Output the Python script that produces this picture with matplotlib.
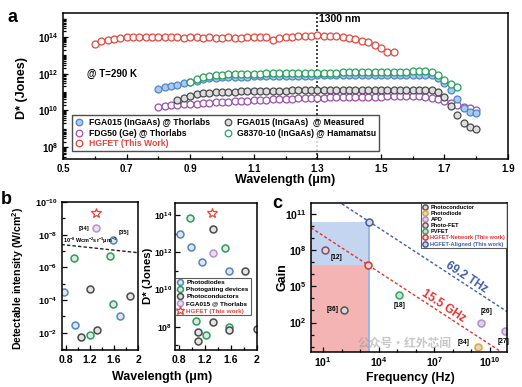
import numpy as np
import matplotlib
matplotlib.use('Agg')
import matplotlib.pyplot as plt
from matplotlib.ticker import LogLocator, NullFormatter, FixedLocator, FuncFormatter

plt.rcParams['font.family'] = ['Liberation Sans', 'DejaVu Sans']
plt.rcParams['font.weight'] = 'bold'
plt.rcParams['axes.labelweight'] = 'bold'
plt.rcParams['mathtext.fontset'] = 'custom'
plt.rcParams['mathtext.rm'] = 'Liberation Sans:bold'
plt.rcParams['mathtext.bf'] = 'Liberation Sans:bold'
plt.rcParams['mathtext.it'] = 'Liberation Sans:bold:italic'
plt.rcParams['mathtext.default'] = 'bf'

# ---------------- data: panel a (log10 D*) ----------------
wl_hgfet = np.round(np.arange(0.60, 1.5401, 0.02), 2)
logD_hgfet = [13.6, 13.75, 13.85, 13.9, 13.95, 14.0, 14.0, 14.0, 14.02, 14.02,
              14.0, 13.97, 14.0, 13.98, 13.95, 14.0, 13.98, 13.95, 13.97, 13.95,
              13.95, 13.97, 13.95, 13.95, 13.97, 13.98, 13.97, 14.0, 13.85, 13.95,
              14.0, 14.02, 14.03, 14.05, 14.07, 14.08, 14.07, 14.05, 14.03, 14.0,
              13.95, 13.88, 13.8, 13.7, 13.55, 13.4, 13.2, 13.15]
wl_g8370 = np.round(np.arange(0.90, 1.7401, 0.02), 2)
logD_g8370 = [11.54, 11.7, 11.82, 11.88, 11.92, 11.95, 11.96, 11.97, 11.98, 11.99,
              12.0, 12.0, 12.01, 12.01, 12.02, 12.02, 12.03, 12.03, 12.04, 12.04,
              12.05, 12.05, 12.06, 12.06, 12.07, 12.07, 12.08, 12.08, 12.09, 12.09,
              12.1, 12.1, 12.1, 12.11, 12.11, 12.12, 12.12, 12.12, 12.1, 11.95,
              11.65, 11.45, 11.25]
wl_fga_thor = np.round(np.arange(0.80, 1.8001, 0.02), 2)
logD_fga_thor = [11.18, 11.25, 11.32, 11.4, 11.48, 11.55, 11.62, 11.7, 11.75, 11.78,
                 11.8, 11.81, 11.82, 11.83, 11.84, 11.85, 11.85, 11.86, 11.86, 11.87,
                 11.87, 11.88, 11.88, 11.89, 11.89, 11.9, 11.9, 11.9, 11.91, 11.91,
                 11.91, 11.91, 11.92, 11.92, 11.92, 11.92, 11.92, 11.92, 11.92, 11.92,
                 11.92, 11.92, 11.92, 11.9, 11.78, 11.5, 11.1, 10.6, 10.15, 9.92, 9.86]
wl_fga_meas = np.round(np.arange(0.86, 1.8001, 0.02), 2)
logD_fga_meas = [10.55, 10.68, 10.8, 10.88, 10.94, 10.97, 10.99, 11.0, 11.01, 11.02,
                 11.03, 11.04, 11.05, 11.05, 11.06, 11.06, 11.07, 11.07, 11.08, 11.08,
                 11.09, 11.09, 11.1, 11.1, 11.1, 11.1, 11.11, 11.11, 11.11, 11.11,
                 11.12, 11.12, 11.12, 11.12, 11.12, 11.12, 11.12, 11.12, 11.12, 11.12,
                 11.1, 10.98, 10.72, 10.25, 9.72, 9.32, 9.1, 9.0]
wl_fdg50 = np.round(np.arange(0.80, 1.8001, 0.02), 2)
logD_fdg50 = [10.2, 10.24, 10.27, 10.3, 10.32, 10.35, 10.37, 10.39, 10.41, 10.43,
              10.45, 10.47, 10.49, 10.51, 10.53, 10.55, 10.56, 10.58, 10.59, 10.61,
              10.62, 10.63, 10.65, 10.66, 10.67, 10.68, 10.69, 10.7, 10.71, 10.71,
              10.72, 10.73, 10.73, 10.74, 10.74, 10.75, 10.76, 10.76, 10.77, 10.77,
              10.78, 10.77, 10.74, 10.68, 10.6, 10.5, 10.4, 10.3, 10.2, 10.1, 10.0]
a_xticks = [0.5, 0.7, 0.9, 1.1, 1.3, 1.5, 1.7, 1.9]

# ---------------- data: panel b left (log10 detectable intensity) ----------------
bl_pd_wl = [0.78, 0.96, 1.59, 1.70]
bl_pd_logI = [-4.5, -2.48, -7.7, -3.0]
bl_pg_wl = [0.94, 1.53, 1.59, 1.20]
bl_pg_logI = [-6.6, -6.7, -3.76, -1.84]
bl_pc_wl = [1.21, 1.87, 1.32, 1.06]
bl_pc_logI = [-4.7, -4.26, -2.18, -1.76]
bl_fga_wl = [1.31]
bl_fga_logI = [-8.4]
bl_hg_wl = [1.31]
bl_hg_logI = [-9.3]
bl_ref_wl = [0.73, 2.0]
bl_ref_logI = [-7.4, -6.9]

# ---------------- data: panel b right (log10 D*) ----------------
br_pd_wl = [0.82, 0.99, 1.15, 1.57]
br_pd_logD = [13.0, 12.29, 11.48, 10.97]
br_pg_wl = [0.97, 1.51, 1.06, 1.22, 1.57]
br_pg_logD = [13.85, 12.23, 8.29, 7.55, 7.96]
br_pc_wl = [1.32, 1.82, 1.32, 1.09, 1.09, 1.57, 2.0]
br_pc_logD = [13.24, 10.97, 8.23, 7.7, 7.24, 7.85, 7.9]
br_fga_wl = [1.32]
br_fga_logD = [11.96]
br_hg_wl = [1.31]
br_hg_logD = [14.1]
b_xticks = [0.8, 1.2, 1.6, 2.0]

# ---------------- data: panel c ----------------
c_pcond_f = [130.0]; c_pcond_g = [1.0e3]; c_pcond_ref = ['[36]']
c_pdiode_f = [2.2e9]; c_pdiode_g = [1.0]; c_pdiode_ref = ['[34]']
c_apd_f = [3.3e9, 6.6e10]; c_apd_g = [100.0, 21.0]; c_apd_ref = ['[26]', '[27]']
c_pfet_f = [13.0]; c_pfet_g = [1.0e8]; c_pfet_ref = ['[12]']
c_pvfet_f = [1.3e5]; c_pvfet_g = [1.8e4]; c_pvfet_ref = ['[18]']
c_net_f = [2512.0]; c_net_g = [6.17e6]
c_ali_f = [3000.0]; c_ali_g = [2.3e10]
gbp_net = 15.5e9
gbp_ali = 69.2e12

# ---------------- colours ----------------
BLUE = '#4f86c6'; PURPLE = '#9a4fb0'; RED = '#e8443a'; BLACK = '#4a4a4a'; GREEN = '#27a05a'
LPURPLE = '#b98fd2'

W, H = 522, 387
fig = plt.figure(figsize=(W / 100, H / 100), dpi=100)

def box(l, t, r, b):
    return [l / W, 1 - b / H, (r - l) / W, (b - t) / H]

def style(ax, size=7):
    ax.tick_params(which='both', direction='in', labelsize=size, width=0.9)
    ax.tick_params(which='major', length=3.5)
    ax.tick_params(which='minor', length=2)
    for s in ax.spines.values():
        s.set_linewidth(1.1)

def pow_fmt(v, pos):
    e = int(round(np.log10(v)))
    return r'$10^{%d}$' % e

# ================= panel a =================
axa = fig.add_axes(box(63, 13, 508, 159))
mk = dict(marker='o', linestyle='none', markersize=5.0, markeredgewidth=0.9)
h_pur, = axa.plot(wl_fdg50, 10 ** np.array(logD_fdg50), mfc='white', mec=PURPLE, **mk,
                  label='FDG50 (Ge) @ Thorlabs')
h_blk, = axa.plot(wl_fga_meas, 10 ** np.array(logD_fga_meas), mfc='#dddddd', mec=BLACK, **mk,
                  label='FGA015 (InGaAs)  @ Measured')
h_blu, = axa.plot(wl_fga_thor, 10 ** np.array(logD_fga_thor), mfc='#a9c9ee', mec=BLUE, **mk,
                  label='FGA015 (InGaAs) @ Thorlabs')
h_grn, = axa.plot(wl_g8370, 10 ** np.array(logD_g8370), mfc='white', mec=GREEN, **mk,
                  label='G8370-10 (InGaAs) @ Hamamatsu')
h_red, = axa.plot(wl_hgfet, 10 ** np.array(logD_hgfet), mfc='white', mec=RED, **mk,
                  label='HGFET (This Work)')
axa.set_yscale('log')
axa.set_xlim(0.5, 1.9)
axa.set_ylim(10 ** 7.35, 10 ** 15.3)
axa.xaxis.set_major_locator(FixedLocator(a_xticks))
axa.xaxis.set_minor_locator(FixedLocator([0.6, 0.8, 1.0, 1.2, 1.4, 1.6, 1.8]))
axa.xaxis.set_major_formatter(FuncFormatter(lambda v, p: '%.1f' % v))
axa.yaxis.set_major_locator(FixedLocator([1e8, 1e10, 1e12, 1e14]))
axa.yaxis.set_major_formatter(FuncFormatter(pow_fmt))
axa.yaxis.set_minor_locator(LogLocator(base=10, subs=np.arange(1, 10), numticks=50))
axa.yaxis.set_minor_formatter(NullFormatter())
style(axa, 7)
axa.axvline(1.3, color='#222222', linestyle=(0, (1.2, 1.2)), linewidth=1.2, zorder=1)
axa.text(1.305, 10 ** 14.95, '1300 nm', fontsize=7.5, fontweight='bold', va='center', ha='left')
axa.text(0.575, 10 ** 12.0, '@ T=290 K', fontsize=7, fontweight='bold', va='center', ha='left')
leg = axa.legend(handles=[h_blu, h_pur, h_red, h_blk, h_grn], ncol=2, loc='lower left',
                 bbox_to_anchor=(0.01, 0.025), fontsize=6.2, frameon=True, fancybox=False,
                 edgecolor='#222222', handletextpad=0.6, columnspacing=1.6, borderpad=0.35,
                 labelspacing=0.15, handlelength=1.0, markerscale=0.95)
leg.get_frame().set_linewidth(1.0)
for t in leg.get_texts():
    t.set_fontweight('bold')
leg.get_texts()[2].set_color(RED)
fig.text(22 / W, 1 - 88 / H, 'D* (Jones)', rotation=90, ha='center', va='center',
         fontsize=9, fontweight='bold')
fig.text(285 / W, 1 - 180 / H, 'Wavelength (μm)', ha='center', va='center',
         fontsize=9, fontweight='bold')
fig.text(8 / W, 1 - 18 / H, 'a', ha='left', va='center', fontsize=13, fontweight='bold')

# ================= panel b left =================
axb1 = fig.add_axes(box(62, 202, 138, 350))
mkb = dict(marker='o', linestyle='none', markersize=5.0, markeredgewidth=1.1, mfc='#e4e4e4')
axb1.plot(bl_ref_wl, 10 ** np.array(bl_ref_logI), color='#222222', linestyle=(0, (2.5, 1.5)),
          linewidth=1.0)
axb1.plot(bl_pd_wl, 10 ** np.array(bl_pd_logI), mec=BLUE, **mkb)
axb1.plot(bl_pg_wl, 10 ** np.array(bl_pg_logI), mec=GREEN, **mkb)
axb1.plot(bl_pc_wl, 10 ** np.array(bl_pc_logI), mec=BLACK, **mkb)
axb1.plot(bl_fga_wl, 10 ** np.array(bl_fga_logI), mec=LPURPLE, **mkb)
axb1.plot(bl_hg_wl, 10 ** np.array(bl_hg_logI), marker='*', linestyle='none', markersize=7.5,
          mfc='white', mec=RED, markeredgewidth=0.9)
axb1.set_yscale('log')
axb1.set_xlim(0.74, 2.0)
axb1.set_ylim(10 ** -0.95, 1e-10)
axb1.xaxis.set_major_locator(FixedLocator(b_xticks))
axb1.xaxis.set_major_formatter(FuncFormatter(lambda v, p: '2' if abs(v - 2) < 1e-6 else '%.1f' % v))
axb1.xaxis.set_minor_locator(FixedLocator([1.0, 1.4, 1.8]))
axb1.yaxis.set_major_locator(FixedLocator([1e-10, 1e-8, 1e-6, 1e-4, 1e-2]))
axb1.yaxis.set_major_formatter(FuncFormatter(pow_fmt))
axb1.yaxis.set_minor_locator(FixedLocator([1e-9, 1e-7, 1e-5, 1e-3, 1e-1]))
axb1.yaxis.set_minor_formatter(NullFormatter())
style(axb1, 7.5)
axb1.tick_params(axis='y', labelsize=6.5)
axb1.annotate('[34]', (bl_fga_wl[0], 10 ** bl_fga_logI[0]), xytext=(-5, 0),
              textcoords='offset points', fontsize=4.3, ha='right', va='center')
axb1.annotate('[35]', (bl_pd_wl[2], 10 ** bl_pd_logI[2]), xytext=(4, 5),
              textcoords='offset points', fontsize=4.3, ha='left', va='center')
axb1.text(0.76, 10 ** -7.62, r'$10^{-8}$ Wcm$^{-2}$sr$^{-1}$μm$^{-1}$', fontsize=4.0,
          ha='left', va='center')
fig.text(18 / W, 1 - 279 / H, 'Detectable intensity (W/cm$^2$)', rotation=90, ha='center',
         va='center', fontsize=7.6, fontweight='bold')
fig.text(1 / W, 1 - 200 / H, 'b', ha='left', va='center', fontsize=13, fontweight='bold')

# ================= panel b right =================
axb2 = fig.add_axes(box(175, 203, 257, 350))
hb_pd, = axb2.plot(br_pd_wl, 10 ** np.array(br_pd_logD), mec=BLUE, label='Photodiodes', **mkb)
hb_pg, = axb2.plot(br_pg_wl, 10 ** np.array(br_pg_logD), mec=GREEN, label='Photogating devices', **mkb)
hb_pc, = axb2.plot(br_pc_wl, 10 ** np.array(br_pc_logD), mec=BLACK, label='Photoconductors', **mkb)
hb_fg, = axb2.plot(br_fga_wl, 10 ** np.array(br_fga_logD), mec=LPURPLE, label='FGA015 @ Thorlabs', **mkb)
hb_hg, = axb2.plot(br_hg_wl, 10 ** np.array(br_hg_logD), marker='*', linestyle='none',
                   markersize=7.5, mfc='white', mec=RED, markeredgewidth=0.9,
                   label='HGFET (This work)')
axb2.set_yscale('log')
axb2.set_xlim(0.74, 2.0)
axb2.set_ylim(10 ** 6.75, 10 ** 14.65)
axb2.xaxis.set_major_locator(FixedLocator(b_xticks))
axb2.xaxis.set_major_formatter(FuncFormatter(lambda v, p: '2' if abs(v - 2) < 1e-6 else '%.1f' % v))
axb2.xaxis.set_minor_locator(FixedLocator([1.0, 1.4, 1.8]))
axb2.yaxis.set_major_locator(FixedLocator([1e8, 1e10, 1e12, 1e14]))
axb2.yaxis.set_major_formatter(FuncFormatter(pow_fmt))
axb2.yaxis.set_minor_locator(FixedLocator([1e7, 1e9, 1e11, 1e13]))
axb2.yaxis.set_minor_formatter(NullFormatter())
style(axb2, 7.5)
axb2.tick_params(axis='y', labelsize=6.3, pad=2)
legb = axb2.legend(handles=[hb_pd, hb_pg, hb_pc, hb_fg, hb_hg], loc='lower left',
                   bbox_to_anchor=(0.0, 0.235), fontsize=4.6, frameon=True, fancybox=False,
                   edgecolor='#333333', handletextpad=0.5, borderpad=0.3, labelspacing=0.25,
                   handlelength=1.0, markerscale=0.85, borderaxespad=0)
legb.get_frame().set_linewidth(0.8)
legb.get_texts()[4].set_color(RED)
fig.text(148 / W, 1 - 276 / H, 'D* (Jones)', rotation=90, ha='center', va='center',
         fontsize=8.2, fontweight='bold')
fig.text(162 / W, 1 - 377 / H, 'Wavelength (μm)', ha='center', va='center',
         fontsize=9, fontweight='bold')

# ================= panel c =================
axc = fig.add_axes(box(311, 203, 507, 352))
xmin_c, xmax_c = 10 ** 0.34, 10 ** 10.93
ymin_c, ymax_c = 10 ** -0.44, 10 ** 11.9
axc.set_xscale('log'); axc.set_yscale('log')
axc.set_xlim(xmin_c, xmax_c); axc.set_ylim(ymin_c, ymax_c)
axc.fill_between([xmin_c, c_ali_f[0]], ymin_c, c_ali_g[0], color='#c4d5ef', lw=0, zorder=0)
axc.fill_between([xmin_c, c_net_f[0]], ymin_c, c_net_g[0], color='#f4b4b4', lw=0, zorder=0.5)
axc.plot([c_ali_f[0], c_ali_f[0]], [ymin_c, c_ali_g[0]], color='#8eaee0', lw=1.2, zorder=0.6)
fline = np.array([xmin_c, xmax_c])
axc.plot(fline, gbp_ali / fline, color='#3f5ea8', linestyle=(0, (2.2, 1.6)), lw=1.0)
axc.plot(fline, gbp_net / fline, color='#e8312f', linestyle=(0, (2.2, 1.6)), lw=1.0)
mkc = dict(marker='o', linestyle='none', markersize=5.0, markeredgewidth=1.1, mfc='#d8d8d8')
hc1, = axc.plot(c_pcond_f, c_pcond_g, mec='#555555', label='Photoconductor', **mkc)
hc2, = axc.plot(c_pdiode_f, c_pdiode_g, mec='#f0a020', label='Photodiode', **mkc)
hc3, = axc.plot(c_apd_f, c_apd_g, mec='#b48ad0', label='APD', **mkc)
hc4, = axc.plot(c_pfet_f, c_pfet_g, mec='#8a4a66', label='Photo-FET', **mkc)
hc5, = axc.plot(c_pvfet_f, c_pvfet_g, mec='#2eaa5e', label='PVFET', **mkc)
hc6, = axc.plot(c_net_f, c_net_g, mec='#e8312f', label='HGFET-Network (This work)', **mkc)
hc7, = axc.plot(c_ali_f, c_ali_g, mec='#3f5ea8', label='HGFET-Aligned (This work)', **mkc)
axc.xaxis.set_major_locator(FixedLocator([1e1, 1e4, 1e7, 1e10]))
axc.xaxis.set_major_formatter(FuncFormatter(pow_fmt))
axc.xaxis.set_minor_locator(FixedLocator([10.0 ** k for k in range(0, 12)]))
axc.xaxis.set_minor_formatter(NullFormatter())
axc.yaxis.set_major_locator(FixedLocator([1e2, 1e5, 1e8, 1e11]))
axc.yaxis.set_major_formatter(FuncFormatter(pow_fmt))
axc.yaxis.set_minor_locator(FixedLocator([10.0 ** k for k in range(0, 12)]))
axc.yaxis.set_minor_formatter(NullFormatter())
style(axc, 7.5)
axc.tick_params(axis='x', pad=2.5)
annot = [(c_pfet_f[0], c_pfet_g[0], c_pfet_ref[0], (4, -5), 'left'),
         (c_pcond_f[0], c_pcond_g[0], c_pcond_ref[0], (-4, 1), 'right'),
         (c_pvfet_f[0], c_pvfet_g[0], c_pvfet_ref[0], (0, -7), 'center'),
         (c_apd_f[0], c_apd_g[0], c_apd_ref[0], (4, 8), 'center'),
         (c_apd_f[1], c_apd_g[1], c_apd_ref[1], (-1, -8), 'center'),
         (c_pdiode_f[0], c_pdiode_g[0], c_pdiode_ref[0], (-10, 3), 'center')]
for fx, gy, txt, off, ha in annot:
    axc.annotate(txt, (fx, gy), xytext=off, textcoords='offset points', fontsize=4.8,
                 ha=ha, va='center')
def line_angle(gbp):
    p1 = axc.transData.transform((1e5, gbp / 1e5))
    p2 = axc.transData.transform((1e8, gbp / 1e8))
    return np.degrees(np.arctan2(p2[1] - p1[1], p2[0] - p1[0]))
f_t1 = 10 ** 8.75
axc.text(f_t1, gbp_ali / f_t1 * 4.5, '69.2 THz', color='#3f5ea8', fontsize=8.5, fontweight='bold',
         rotation=line_angle(gbp_ali), ha='center', va='center', rotation_mode='anchor')
f_t2 = 10 ** 7.5
axc.text(f_t2, gbp_net / f_t2 * 4.5, '15.5 GHz', color='#e8312f', fontsize=8.5, fontweight='bold',
         rotation=line_angle(gbp_net), ha='center', va='center', rotation_mode='anchor')
legc = axc.legend(handles=[hc1, hc2, hc3, hc4, hc5, hc6, hc7], loc='upper right', fontsize=4.1,
                  frameon=True, fancybox=False, edgecolor='#333333', borderaxespad=0,
                  handletextpad=0.5, borderpad=0.3, labelspacing=0.2, handlelength=0.9,
                  markerscale=0.75)
legc.get_frame().set_linewidth(0.8)
legc.get_texts()[5].set_color('#e8312f')
legc.get_texts()[6].set_color('#3f5ea8')
fig.text(282 / W, 1 - 277 / H, 'Gain', rotation=90, ha='center', va='center',
         fontsize=9, fontweight='bold')
fig.text(410 / W, 1 - 378 / H, 'Frequency (Hz)', ha='center', va='center',
         fontsize=8.8, fontweight='bold')
fig.text(272 / W, 1 - 203 / H, 'c', ha='left', va='center', fontsize=13, fontweight='bold')
fig.text(405 / W, 1 - 343 / H, '公众号·红外芯闻', ha='center', va='center', fontsize=8.5,
         color='#9a9a9a', alpha=0.55, family=['Noto Sans CJK SC', 'DejaVu Sans'])

fig.savefig('out.png', dpi=100)
